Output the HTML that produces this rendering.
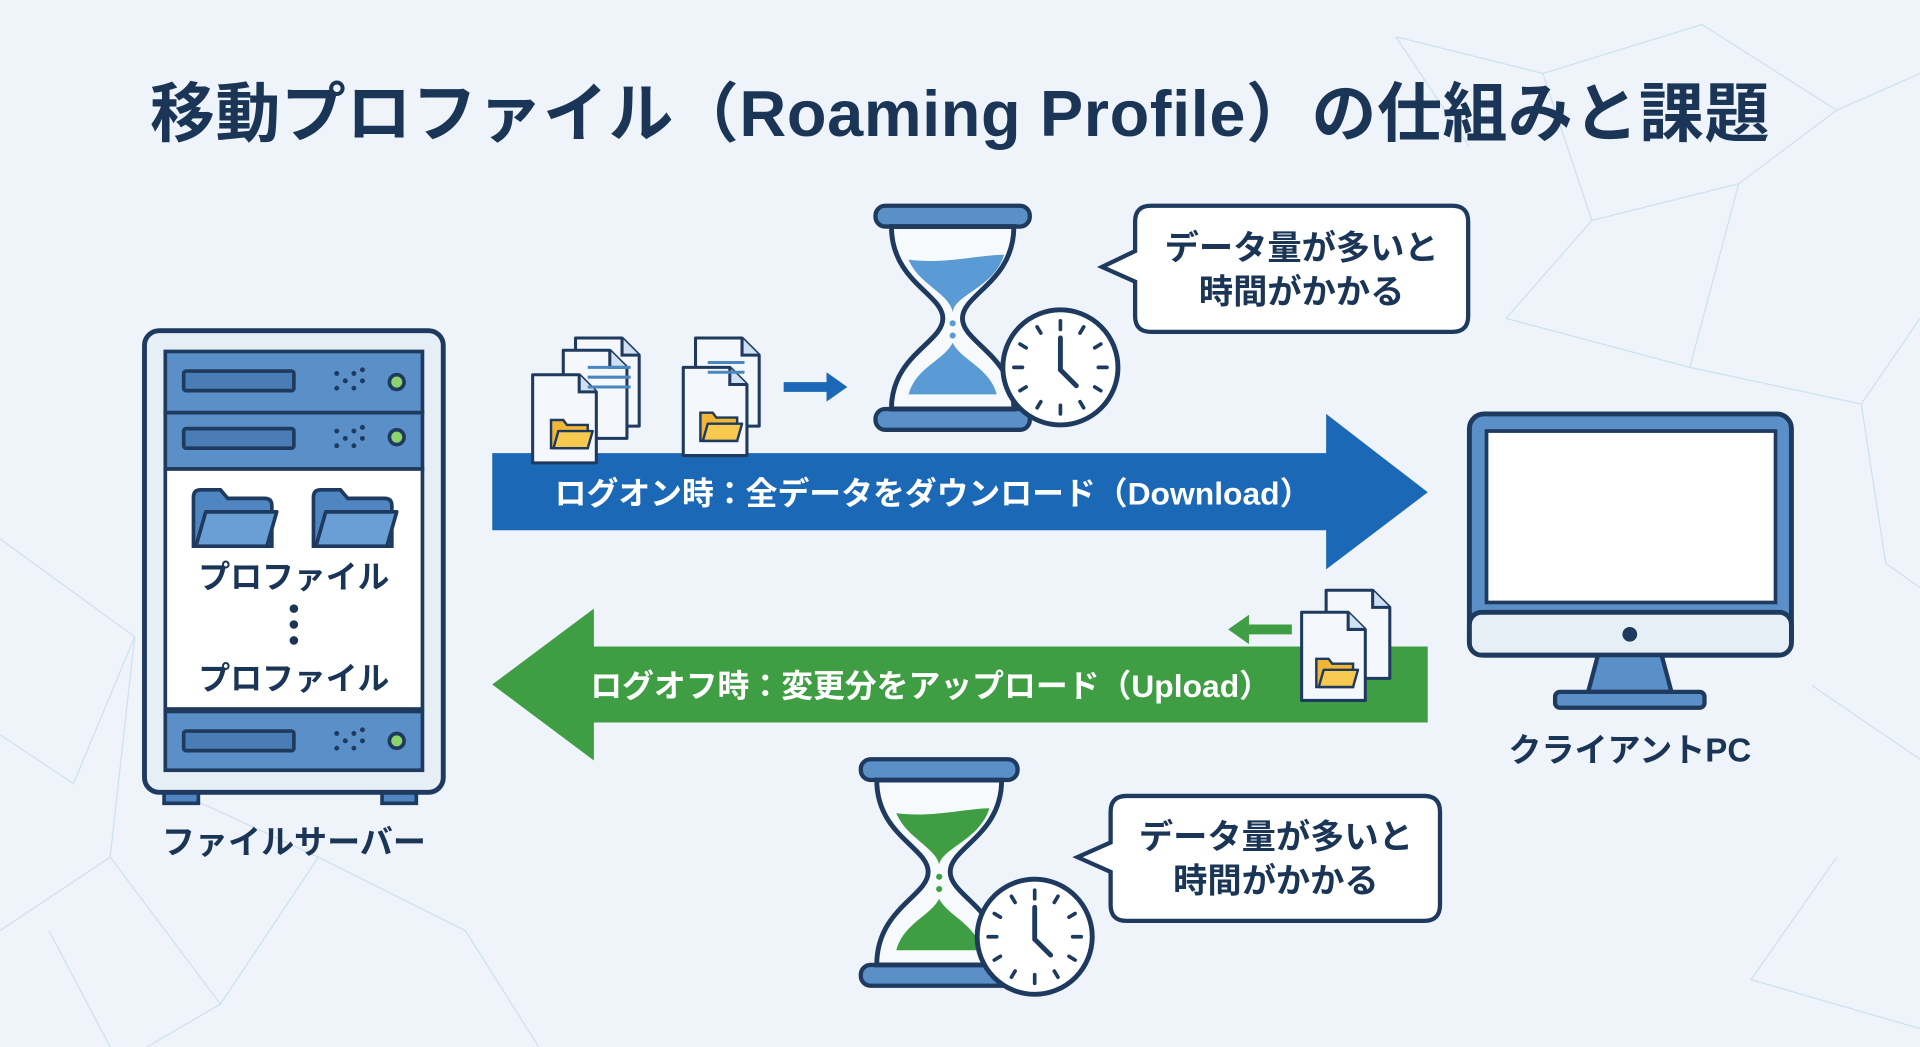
<!DOCTYPE html>
<html><head><meta charset="utf-8"><style>
html,body{margin:0;padding:0;background:#eef4f9;}
svg{display:block}
text{font-family:"Liberation Sans","Noto Sans CJK JP",sans-serif;font-weight:bold}
</style></head><body>
<svg width="1920" height="1047" viewBox="0 0 1568 855" xmlns="http://www.w3.org/2000/svg">
<defs>
<g id="fold"><path d="M0 6 Q0 0 6 0 H22 L28 7 H58 Q64 7 64 13 V46 H0Z" fill="#4f86c2" stroke="#1f3a5f" stroke-width="3"/><path d="M2 46 L10 18 H68 L60 46Z" fill="#6a9fd6" stroke="#1f3a5f" stroke-width="3" stroke-linejoin="round"/></g>
<g id="doc"><path d="M0 0 H38 L52 14 V72 H0Z" fill="#f4f7fb" stroke="#1f3a5f" stroke-width="2.5" stroke-linejoin="round"/><path d="M38 0 V14 H52" fill="#cfe0f2" stroke="#1f3a5f" stroke-width="2.5"/></g>
<g id="yf"><path d="M0 3 H10 L13 7 H30 V26 H0Z" fill="#f2b636" stroke="#1f3a5f" stroke-width="2"/><path d="M2 26 L6 12 H34 L30 26Z" fill="#f7c94f" stroke="#1f3a5f" stroke-width="2" stroke-linejoin="round"/></g>
<g id="clock"><circle r="47" fill="#fff" stroke="#1f3a5f" stroke-width="4"/>
<g stroke="#1f3a5f" stroke-width="3" stroke-linecap="round">
<line x1="0" y1="-38" x2="0" y2="-31"/><line x1="0" y1="38" x2="0" y2="31"/><line x1="-38" y1="0" x2="-31" y2="0"/><line x1="38" y1="0" x2="31" y2="0"/>
<line x1="19" y1="-33" x2="16" y2="-28"/><line x1="33" y1="-19" x2="28" y2="-16"/><line x1="33" y1="19" x2="28" y2="16"/><line x1="19" y1="33" x2="16" y2="28"/>
<line x1="-19" y1="-33" x2="-16" y2="-28"/><line x1="-33" y1="-19" x2="-28" y2="-16"/><line x1="-33" y1="19" x2="-28" y2="16"/><line x1="-19" y1="33" x2="-16" y2="28"/>
<polyline points="0,-24 0,2 13,15" fill="none" stroke-width="4"/></g></g>
</defs>
<rect width="1568" height="855" fill="#eef4f9"/>
<g stroke="#c4dcee" stroke-width="1" fill="none" opacity="0.8">
<path d="M0 440 L110 520 L60 640 L0 600 M110 520 L90 700 L0 760 M90 700 L180 820 L260 700 L130 640 M260 700 L380 760 L440 855 M180 820 L120 855 M40 760 L90 855"/>
<path d="M1140 30 L1260 60 L1390 20 L1500 90 L1568 60 M1260 60 L1300 180 L1420 150 L1500 90 M1300 180 L1230 260 L1380 300 L1420 150 M1380 300 L1520 330 L1568 260 M1520 330 L1540 460 L1568 480 M1480 560 L1568 620 M1500 700 L1430 800 L1568 840 M1200 120 L1140 30"/>
</g>
<text x="784" y="111" font-size="53" fill="#1b3556" text-anchor="middle" letter-spacing="0.5">移動プロファイル（Roaming Profile）の仕組みと課題</text>

<rect x="134" y="640" width="28" height="16" fill="#4f86c2" stroke="#1f3a5f" stroke-width="3"/>
<rect x="312" y="640" width="28" height="16" fill="#4f86c2" stroke="#1f3a5f" stroke-width="3"/>
<rect x="118" y="270" width="244" height="377" rx="12" fill="#e6eef6" stroke="#1f3a5f" stroke-width="4"/>
<rect x="135" y="287" width="210" height="50" fill="#5b8fc7" stroke="#1f3a5f" stroke-width="3"/>
<rect x="135" y="337" width="210" height="46" fill="#5b8fc7" stroke="#1f3a5f" stroke-width="3"/>
<rect x="135" y="383" width="210" height="196" fill="#ffffff" stroke="#1f3a5f" stroke-width="3"/>
<rect x="135" y="581" width="210" height="48" fill="#5b8fc7" stroke="#1f3a5f" stroke-width="3"/>
<g fill="#4a7db5" stroke="#1f3a5f" stroke-width="3">
<rect x="150" y="303" width="90" height="16" rx="2"/><rect x="150" y="350" width="90" height="16" rx="2"/><rect x="150" y="597" width="90" height="16" rx="2"/></g>
<g fill="#1f3a5f"><circle cx="275" cy="305" r="2"/><circle cx="289" cy="305" r="2"/><circle cx="282" cy="311" r="2"/><circle cx="296" cy="311" r="2"/><circle cx="275" cy="317" r="2"/><circle cx="289" cy="317" r="2"/><circle cx="296" cy="302" r="2"/>
<circle cx="275" cy="352" r="2"/><circle cx="289" cy="352" r="2"/><circle cx="282" cy="358" r="2"/><circle cx="296" cy="358" r="2"/><circle cx="275" cy="364" r="2"/><circle cx="289" cy="364" r="2"/><circle cx="296" cy="349" r="2"/>
<circle cx="275" cy="599" r="2"/><circle cx="289" cy="599" r="2"/><circle cx="282" cy="605" r="2"/><circle cx="296" cy="605" r="2"/><circle cx="275" cy="611" r="2"/><circle cx="289" cy="611" r="2"/><circle cx="296" cy="596" r="2"/></g>
<g fill="#8bd36a" stroke="#1f3a5f" stroke-width="3"><circle cx="324" cy="312" r="6"/><circle cx="324" cy="357" r="6"/><circle cx="324" cy="605" r="6"/></g>
<use href="#fold" x="158" y="400"/><use href="#fold" x="256" y="400"/>
<text x="240" y="480" font-size="26" fill="#1b3556" text-anchor="middle">プロファイル</text>
<g fill="#1b3556"><circle cx="240" cy="497" r="3.5"/><circle cx="240" cy="510" r="3.5"/><circle cx="240" cy="523" r="3.5"/></g>
<text x="240" y="563" font-size="26" fill="#1b3556" text-anchor="middle">プロファイル</text>
<text x="240" y="697" font-size="27" fill="#1b3556" text-anchor="middle">ファイルサーバー</text>

<path d="M402 370 H1083 V338 L1166 402 L1083 465 V433 H402Z" fill="#1b69b6"/>
<text x="762" y="412" font-size="26" fill="#fff" text-anchor="middle">ログオン時：全データをダウンロード（Download）</text>
<path d="M1166 528 H485 V497 L402 559 L485 621 V590 H1166Z" fill="#3f9e43"/>
<text x="760" y="569" font-size="26" fill="#fff" text-anchor="middle">ログオフ時：変更分をアップロード（Upload）</text>

<use href="#doc" x="470" y="276"/><use href="#doc" x="460" y="286"/><use href="#doc" x="435" y="306"/>
<g stroke="#4a86c0" stroke-width="2.5"><line x1="480" y1="300" x2="515" y2="300"/><line x1="480" y1="308" x2="515" y2="308"/><line x1="480" y1="316" x2="515" y2="316"/></g>
<use href="#yf" x="450" y="340"/>
<use href="#doc" x="568" y="276"/><use href="#doc" x="558" y="300"/>
<g stroke="#4a86c0" stroke-width="2.5"><line x1="578" y1="296" x2="608" y2="296"/><line x1="578" y1="304" x2="608" y2="304"/></g>
<use href="#yf" x="572" y="334"/>
<path d="M640 312 H675 V304 L692 316 L675 328 V320 H640Z" fill="#1b69b6"/>

<rect x="715" y="168" width="126" height="17" rx="8" fill="#5b8fc7" stroke="#1f3a5f" stroke-width="3.5"/>
<rect x="715" y="334" width="126" height="17" rx="8" fill="#5b8fc7" stroke="#1f3a5f" stroke-width="3.5"/>
<path d="M728 185 C728 230 770 240 770 260 C770 280 728 290 728 334 H828 C828 290 786 280 786 260 C786 240 828 230 828 185Z" fill="#f7fafd" stroke="#1f3a5f" stroke-width="4"/>
<path d="M742 212 C770 216 800 208 820 208 C812 235 780 240 778 255 C776 240 750 232 742 212Z" fill="#5b9bd5"/>
<path d="M742 322 C748 300 770 295 778 280 C786 295 808 300 814 322Z" fill="#5b9bd5"/>
<circle cx="778" cy="264" r="2.5" fill="#5b9bd5"/><circle cx="778" cy="274" r="2.5" fill="#5b9bd5"/>
<use href="#clock" x="866" y="300"/>
<path d="M940 168 H1186 Q1199 168 1199 181 V258 Q1199 271 1186 271 H940 Q927 271 927 258 V230 L900 218 L927 205 V181 Q927 168 940 168Z" fill="#fff" stroke="#1f3a5f" stroke-width="3.5"/>
<text x="1063" y="212" font-size="28" fill="#1b3556" text-anchor="middle">データ量が多いと</text>
<text x="1063" y="248" font-size="28" fill="#1b3556" text-anchor="middle">時間がかかる</text>

<rect x="1200" y="338" width="263" height="197" rx="12" fill="#5b8fc7" stroke="#1f3a5f" stroke-width="4"/>
<rect x="1200" y="500" width="263" height="35" rx="10" fill="#e6eef6" stroke="#1f3a5f" stroke-width="4"/>
<rect x="1214" y="352" width="236" height="140" fill="#fff" stroke="#1f3a5f" stroke-width="3"/>
<circle cx="1331" cy="518" r="6" fill="#1f3a5f"/>
<path d="M1305 535 H1357 L1365 565 H1297Z" fill="#5b8fc7" stroke="#1f3a5f" stroke-width="3.5"/>
<rect x="1270" y="565" width="122" height="13" rx="4" fill="#5b8fc7" stroke="#1f3a5f" stroke-width="3.5"/>
<text x="1331" y="622" font-size="27" fill="#1b3556" text-anchor="middle">クライアントPC</text>

<use href="#doc" x="1083" y="482"/><use href="#doc" x="1063" y="500"/>
<use href="#yf" x="1075" y="535"/>
<path d="M1055 510 H1020 V502 L1003 514 L1020 526 V518 H1055Z" fill="#3f9e43"/>

<rect x="703" y="620" width="128" height="17" rx="8" fill="#5b8fc7" stroke="#1f3a5f" stroke-width="3.5"/>
<rect x="703" y="788" width="128" height="17" rx="8" fill="#5b8fc7" stroke="#1f3a5f" stroke-width="3.5"/>
<path d="M716 637 C716 682 758 692 758 712 C758 732 716 742 716 788 H818 C818 742 776 732 776 712 C776 692 818 682 818 637Z" fill="#f7fafd" stroke="#1f3a5f" stroke-width="4"/>
<path d="M732 664 C760 668 790 660 808 660 C800 686 770 692 767 706 C764 692 740 684 732 664Z" fill="#3f9e43"/>
<path d="M732 776 C738 754 760 748 767 734 C774 748 796 754 802 776Z" fill="#3f9e43"/>
<circle cx="767" cy="716" r="2.5" fill="#3f9e43"/><circle cx="767" cy="726" r="2.5" fill="#3f9e43"/>
<use href="#clock" x="845" y="765"/>
<path d="M920 650 H1163 Q1176 650 1176 663 V739 Q1176 752 1163 752 H920 Q907 752 907 739 V712 L880 700 L907 688 V663 Q907 650 920 650Z" fill="#fff" stroke="#1f3a5f" stroke-width="3.5"/>
<text x="1042" y="693" font-size="28" fill="#1b3556" text-anchor="middle">データ量が多いと</text>
<text x="1042" y="729" font-size="28" fill="#1b3556" text-anchor="middle">時間がかかる</text>
</svg>
</body></html>
